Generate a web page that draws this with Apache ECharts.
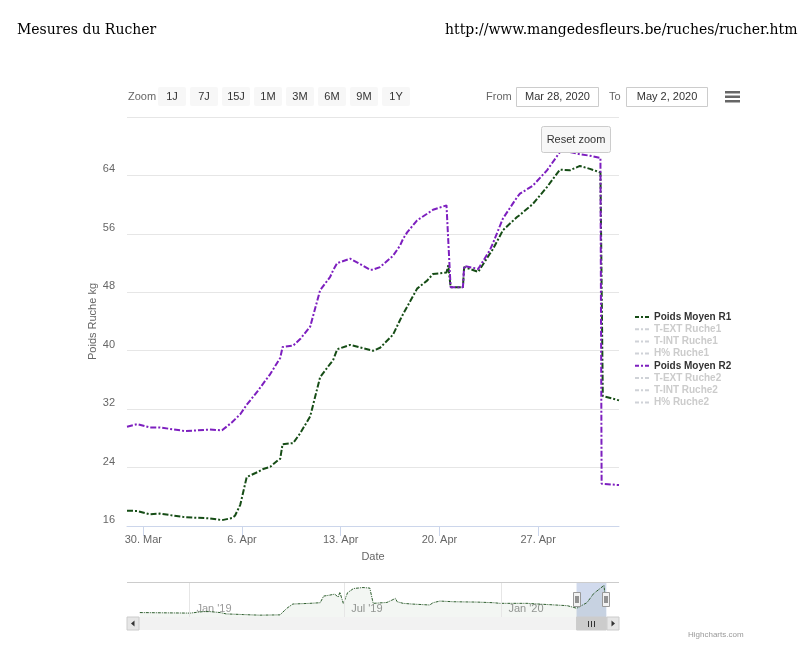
<!DOCTYPE html>
<html>
<head>
<meta charset="utf-8">
<title>Mesures du Rucher</title>
<script src="https://cdn.jsdelivr.net/npm/echarts@6.0.0/dist/echarts.min.js"></script>
<style>
  html, body { margin: 0; padding: 0; background: #fff; }
  #chart { width: 800px; height: 660px; }
</style>
</head>
<body>
<div id="chart"></div>
<script>
// mesures affichées (zoom du 28 mars au 2 mai 2020)
const times = [
  '2020-03-28 20:15', '2020-03-29 14:00', '2020-03-30 11:00', '2020-03-31 04:00',
  '2020-04-01 23:00', '2020-04-03 17:00', '2020-04-04 14:00', '2020-04-05 07:00',
  '2020-04-05 12:00', '2020-04-05 21:00', '2020-04-06 08:00', '2020-04-07 03:00',
  '2020-04-07 12:00', '2020-04-08 00:00', '2020-04-08 13:00', '2020-04-08 17:00',
  '2020-04-08 21:00', '2020-04-09 15:00', '2020-04-10 03:00', '2020-04-10 20:00',
  '2020-04-11 13:00', '2020-04-12 06:00', '2020-04-12 11:00', '2020-04-12 18:00',
  '2020-04-13 16:00', '2020-04-15 02:00', '2020-04-15 07:00', '2020-04-15 19:00',
  '2020-04-16 17:00', '2020-04-17 05:00', '2020-04-17 10:00', '2020-04-17 17:00',
  '2020-04-18 10:00', '2020-04-19 03:00', '2020-04-19 13:00', '2020-04-20 12:00',
  '2020-04-20 15:00', '2020-04-20 19:00', '2020-04-21 16:00', '2020-04-21 18:00',
  '2020-04-22 18:00', '2020-04-23 14:00', '2020-04-23 19:00', '2020-04-24 12:00',
  '2020-04-25 12:00', '2020-04-25 17:00', '2020-04-26 15:00', '2020-04-27 15:00',
  '2020-04-28 13:00', '2020-04-29 06:00', '2020-04-29 23:00', '2020-04-30 16:00',
  '2020-05-01 10:00', '2020-05-01 12:00', '2020-05-01 14:00', '2020-05-02 17:35'
];
const poidsR1 = [
  18.1, 18.05, 17.6, 17.7, 17.2, 17.05, 16.8, 17.1,
  17.4, 18.9, 22.7, 23.4, 23.8, 24.1, 25.0, 25.2,
  27.2, 27.35, 28.7, 31.0, 36.4, 38.2, 38.7, 40.2,
  40.8, 40.1, 40.0, 40.4, 42.2, 44.2, 45.0, 46.0,
  48.5, 49.6, 50.5, 50.7, 51.7, 48.7, 48.7, 51.45,
  50.8, 53.3, 53.9, 56.5, 58.3, 58.6, 60.1, 62.4,
  64.8, 64.7, 65.3, 64.9, 64.4, 64.3, 33.8, 33.2
];
const poidsR2 = [
  29.6, 29.95, 29.5, 29.5, 29.0, 29.2, 29.1, 30.2,
  30.6, 31.3, 32.6, 34.5, 35.5, 36.8, 38.5, 39.0,
  40.5, 40.7, 41.6, 43.3, 48.3, 50.1, 51.0, 52.0,
  52.6, 51.1, 51.1, 51.45, 53.0, 54.4, 55.3, 56.2,
  57.85, 58.75, 59.3, 59.9, 59.9, 48.7, 48.7, 51.6,
  51.2, 53.8, 54.7, 58.1, 61.0, 61.5, 62.6, 64.7,
  67.2, 67.2, 66.9, 66.7, 66.4, 21.8, 21.8, 21.6
];

// historique complet (navigateur)
const navTimes = [
  '2018-11-04', '2018-12-01', '2019-01-02', '2019-01-09', '2019-01-17', '2019-01-25',
  '2019-02-06', '2019-02-13', '2019-03-05', '2019-03-24', '2019-04-17', '2019-04-25',
  '2019-05-02', '2019-05-22', '2019-06-03', '2019-06-07', '2019-06-14', '2019-06-20',
  '2019-06-22', '2019-06-24', '2019-06-26', '2019-06-30', '2019-07-05', '2019-07-12',
  '2019-07-23', '2019-07-31', '2019-08-04', '2019-08-20', '2019-08-26', '2019-08-30',
  '2019-09-01', '2019-09-08', '2019-09-18', '2019-10-09', '2019-10-13', '2019-10-21',
  '2019-11-06', '2019-12-03', '2019-12-23', '2019-12-30', '2020-01-31', '2020-02-19',
  '2020-03-18', '2020-03-29', '2020-04-10', '2020-04-18', '2020-04-26', '2020-04-30',
  '2020-05-01 12:00', '2020-05-01 14:00', '2020-05-02 16:00'
];
const navR1 = [
  9.1, 8.6, 8.0, 9.5, 11.1, 11.1,
  9.1, 6.4, 5.0, 3.8, 4.4, 18.0,
  26.7, 28.1, 29.4, 43.0, 45.0, 47.0,
  50.0, 41.0, 51.0, 28.0, 50.0, 58.6,
  60.6, 59.5, 28.1, 29.9, 34.8, 38.3,
  31.4, 28.1, 26.7, 24.7, 29.4, 32.8,
  31.4, 30.7, 29.4, 28.1, 28.1, 26.1,
  23.3, 18.0, 29.5, 48.5, 59.5, 65.0,
  64.3, 33.8, 33.2
];

const tickDates = ['2020-03-30', '2020-04-06', '2020-04-13', '2020-04-20', '2020-04-27'];
const navTickDates = ['2019-01-01', '2019-07-01', '2020-01-01'];
const zoomButtons = ['1J', '7J', '15J', '1M', '3M', '6M', '9M', '1Y'];
const legendNames = ['Poids Moyen R1', 'T-EXT Ruche1', 'T-INT Ruche1', 'H% Ruche1',
  'Poids Moyen R2', 'T-EXT Ruche2', 'T-INT Ruche2', 'H% Ruche2'];
const seriesColors = ['#164d16', '#e4573d', '#f0a030', '#3d8fd0',
  '#7d1fbf', '#c04060', '#40a080', '#7080c0'];

const months = ['Jan', 'Feb', 'Mar', 'Apr', 'May', 'Jun', 'Jul', 'Aug', 'Sep', 'Oct', 'Nov', 'Dec'];
const ts = s => new Date(s.replace(' ', 'T')).getTime();
const FONT = '"Liberation Sans", Arial, sans-serif';
const dashDot = [6, 2, 2, 2];

const chart = echarts.init(document.getElementById('chart'));

const series = legendNames.map((name, i) => {
  let data = [];
  if (i === 0) data = times.map((t, k) => [ts(t), poidsR1[k]]);
  if (i === 4) data = times.map((t, k) => [ts(t), poidsR2[k]]);
  return {
    name: name,
    type: 'line',
    xAxisIndex: 0,
    yAxisIndex: 0,
    symbol: 'none',
    color: seriesColors[i],
    lineStyle: { width: 2, type: dashDot, color: seriesColors[i] },
    data: data,
    animation: false
  };
});

// navigateur
series.push({
  name: 'nav',
  type: 'line',
  xAxisIndex: 1,
  yAxisIndex: 1,
  symbol: 'none',
  silent: true,
  animation: false,
  lineStyle: { width: 1, type: [3, 1, 1, 1], color: '#2e5e2e' },
  areaStyle: { color: 'rgba(22,77,22,0.07)' },
  data: navTimes.map((t, k) => [ts(t), navR1[k]]),
  markLine: {
    silent: true,
    symbol: 'none',
    label: { show: false },
    animation: false,
    lineStyle: { color: '#e6e6e6', type: 'solid', width: 1 },
    data: navTickDates.map(d => ({ xAxis: ts(d) })).concat([
      { yAxis: 72, lineStyle: { color: '#cccccc' } }
    ])
  },
  markArea: {
    silent: true,
    itemStyle: { color: 'rgba(102,133,194,0.3)' },
    data: [[{ xAxis: ts(times[0]) }, { xAxis: ts(times[times.length - 1]) }]]
  }
});

const selected = {};
legendNames.forEach((n, i) => { selected[n] = (i === 0 || i === 4); });

chart.setOption({
  backgroundColor: '#ffffff',
  animation: false,
  textStyle: { fontFamily: FONT },
  grid: [
    { left: 127, right: 181, top: 117, bottom: 134 },
    { left: 127, right: 181, top: 582, bottom: 43 }
  ],
  legend: {
    orient: 'vertical',
    left: 629,
    top: 306,
    itemWidth: 14,
    itemHeight: 8,
    itemGap: 0.2,
    data: legendNames,
    selected: selected,
    inactiveColor: '#cccccc',
    inactiveWidth: 2,
    itemStyle: { opacity: 0 },
    lineStyle: { type: [4, 2, 2, 2], width: 2 },
    textStyle: { fontSize: 10, fontWeight: 'bold', color: '#333333', lineHeight: 12, fontFamily: FONT }
  },
  xAxis: [
    {
      type: 'value',
      gridIndex: 0,
      min: ts('2020-03-28 20:15'),
      max: ts('2020-05-02 17:35'),
      name: 'Date',
      nameLocation: 'middle',
      nameGap: 25,
      nameMoveOverlap: false,
      nameTextStyle: { color: '#666666', fontSize: 11, fontFamily: FONT },
      axisLine: { lineStyle: { color: '#ccd6eb' } },
      axisTick: { customValues: tickDates.map(ts), length: 10, lineStyle: { color: '#ccd6eb' } },
      axisLabel: {
        customValues: tickDates.map(ts),
        color: '#666666',
        fontSize: 11,
        margin: 8,
        formatter: v => { const d = new Date(v); return d.getDate() + '. ' + months[d.getMonth()]; }
      },
      splitLine: { show: false }
    },
    {
      type: 'value',
      gridIndex: 1,
      min: ts('2018-10-20'),
      max: ts('2020-05-17 12:00'),
      axisLine: { show: false },
      axisTick: { show: false },
      splitLine: { show: false },
      axisLabel: {
        customValues: navTickDates.map(ts),
        inside: true,
        align: 'left',
        verticalAlign: 'middle',
        margin: 8,
        padding: [0, 0, 0, 7],
        color: '#999999',
        fontSize: 11,
        formatter: v => { const d = new Date(v); return months[d.getMonth()] + " '" + String(d.getFullYear()).slice(2); }
      }
    }
  ],
  yAxis: [
    {
      type: 'value',
      gridIndex: 0,
      min: 16,
      max: 72,
      interval: 8,
      name: 'Poids Ruche kg',
      nameLocation: 'middle',
      nameGap: 29,
      nameMoveOverlap: false,
      nameRotate: 90,
      nameTextStyle: { color: '#666666', fontSize: 11, fontFamily: FONT },
      axisLine: { show: false },
      axisTick: { show: false },
      axisLabel: {
        color: '#666666',
        fontSize: 11,
        margin: 12,
        verticalAlign: 'bottom',
        lineHeight: 12,
        formatter: v => (v === 72 ? '' : String(v))
      },
      splitLine: { lineStyle: { color: '#e6e6e6' } }
    },
    {
      type: 'value',
      gridIndex: 1,
      min: 0,
      max: 72,
      show: false,
      splitLine: { show: false }
    }
  ],
  series: series
});

// éléments d'interface (sélecteur, bouton, barre de défilement)
function txt(x, y, text, opts) {
  return {
    type: 'text', x: x, y: y, z: 100,
    style: Object.assign({ text: text, fill: '#666666', font: '11px ' + FONT, align: 'left', verticalAlign: 'middle' }, opts || {})
  };
}
function box(x, y, w, h, fill, stroke, r) {
  return {
    type: 'rect', z: 100,
    shape: { x: x, y: y, width: w, height: h, r: r || 0 },
    style: { fill: fill, stroke: stroke || null, lineWidth: 1 }
  };
}

const maskL = chart.convertToPixel({ xAxisIndex: 1 }, ts(times[0]));
const maskR = chart.convertToPixel({ xAxisIndex: 1 }, ts(times[times.length - 1]));

const graphics = [
  txt(17, 30, 'Mesures du Rucher', { fill: '#000000', font: '14px "DejaVu Serif", serif' }),
  txt(445, 30, 'http://www.mangedesfleurs.be/ruches/rucher.htm', { fill: '#000000', font: '14px "DejaVu Serif", serif' }),
  txt(128, 97, 'Zoom')
];
zoomButtons.forEach((b, i) => {
  const bx = 158 + i * 32;
  graphics.push(box(bx, 87, 28, 19, '#f7f7f7', null, 2));
  graphics.push(txt(bx + 14, 97, b, { fill: '#333333', align: 'center' }));
});
graphics.push(
  txt(486, 97, 'From'),
  box(516.5, 87.5, 82, 19, '#ffffff', '#cccccc'),
  txt(557.5, 97, 'Mar 28, 2020', { fill: '#333333', align: 'center' }),
  txt(609, 97, 'To'),
  box(626.5, 87.5, 81, 19, '#ffffff', '#cccccc'),
  txt(667, 97, 'May 2, 2020', { fill: '#333333', align: 'center' }),
  box(725, 91, 15, 2.5, '#666666'),
  box(725, 95.5, 15, 2.5, '#666666'),
  box(725, 100, 15, 2.5, '#666666'),
  box(541.5, 126.5, 69, 26, '#f7f7f7', '#cccccc', 2),
  txt(576, 140, 'Reset zoom', { fill: '#333333', align: 'center' }),
  // barre de défilement
  box(127, 617, 492, 13, '#f2f2f2'),
  box(127, 617, 12, 13, '#e6e6e6', '#cccccc'),
  box(607, 617, 12, 13, '#e6e6e6', '#cccccc'),
  { type: 'polygon', z: 101, shape: { points: [[134.5, 620.5], [134.5, 626.5], [131, 623.5]] }, style: { fill: '#333333' } },
  { type: 'polygon', z: 101, shape: { points: [[611.5, 620.5], [611.5, 626.5], [615, 623.5]] }, style: { fill: '#333333' } },
  box(maskL, 617, Math.max(maskR - maskL, 8), 13, '#cccccc', '#cccccc')
);
const mid = Math.round((maskL + maskR) / 2);
[-3, 0, 3].forEach(o => {
  graphics.push({ type: 'line', z: 101, shape: { x1: mid + o + 0.5, y1: 621, x2: mid + o + 0.5, y2: 627 }, style: { stroke: '#333333', lineWidth: 1 } });
});
// poignées du navigateur
[maskL, maskR].forEach(hx => {
  graphics.push(box(Math.round(hx) - 3.5, 592.5, 7, 14, '#f2f2f2', '#999999'));
  graphics.push({ type: 'line', z: 101, shape: { x1: Math.round(hx) - 1, y1: 596, x2: Math.round(hx) - 1, y2: 603 }, style: { stroke: '#333333', lineWidth: 1 } });
  graphics.push({ type: 'line', z: 101, shape: { x1: Math.round(hx) + 1, y1: 596, x2: Math.round(hx) + 1, y2: 603 }, style: { stroke: '#333333', lineWidth: 1 } });
});
graphics.push(txt(688, 635, 'Highcharts.com', { fill: '#999999', font: '8px ' + FONT }));

chart.setOption({ graphic: graphics });
</script>
</body>
</html>
